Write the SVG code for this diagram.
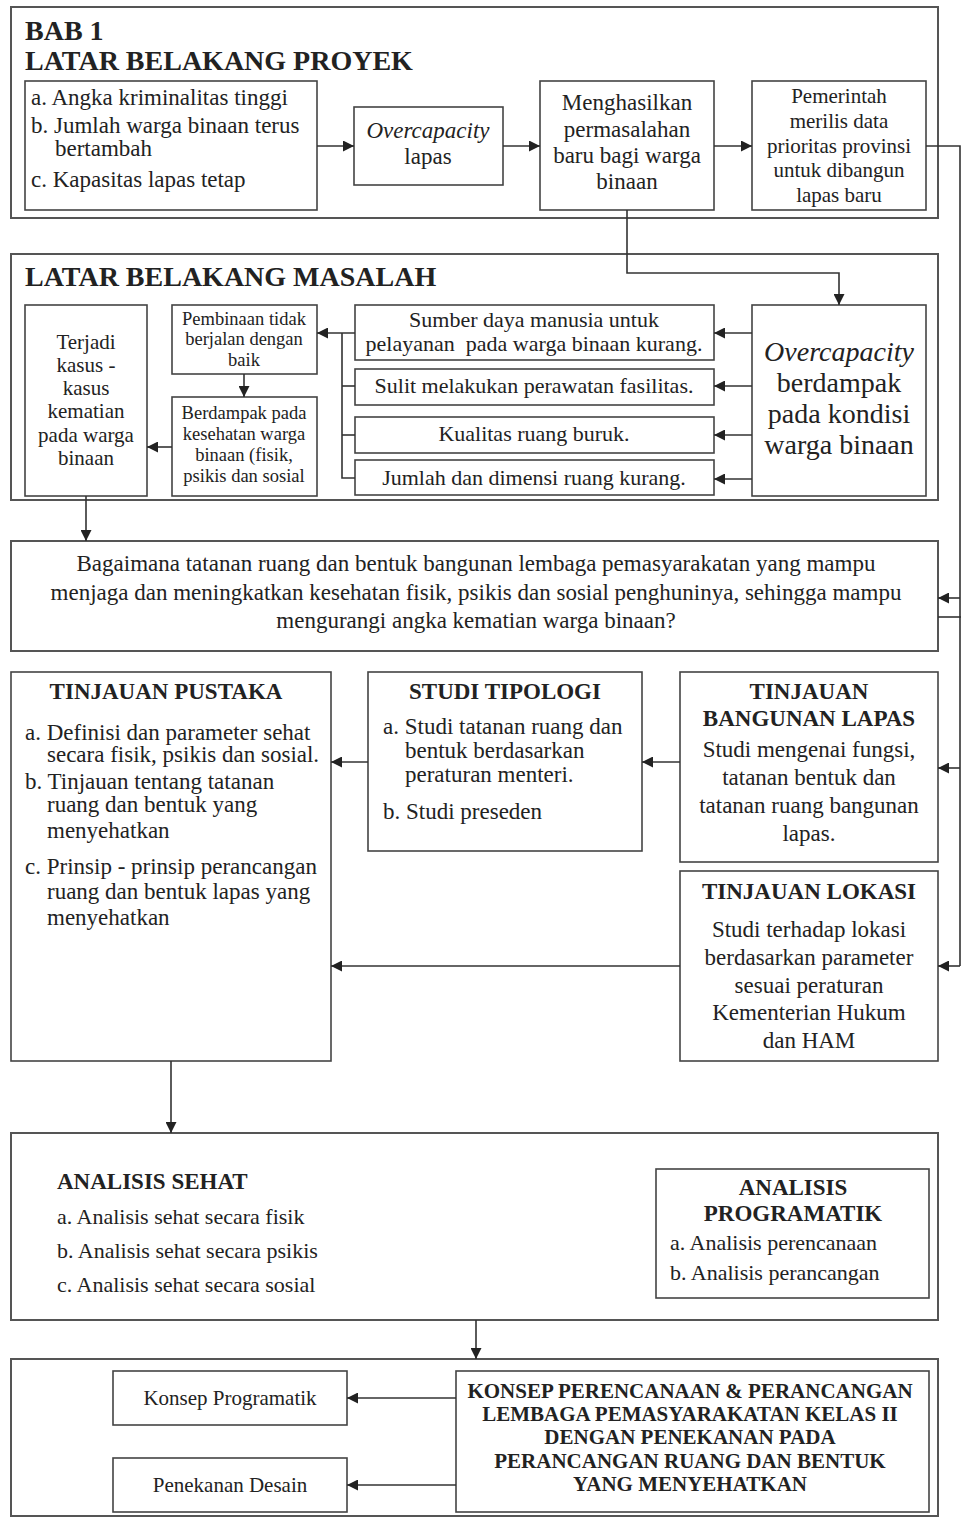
<svg xmlns="http://www.w3.org/2000/svg" width="961" height="1517" viewBox="0 0 961 1517">
<style>
text{font-family:"Liberation Serif","Times New Roman",serif;fill:#222}
.box{fill:#fff;stroke:#444;stroke-width:1.6}
.frame{fill:none;stroke:#555;stroke-width:2}
.c{text-anchor:middle}
.b{font-weight:bold}
.i{font-style:italic}
.t20{font-size:22px}
.t21{font-size:23px}
.t19{font-size:21px}
.t17{font-size:18.5px}
.t26{font-size:28px}
.ln{fill:none;stroke:#333;stroke-width:1.6}
</style>
<defs>
<marker id="ah" viewBox="0 0 10 10" refX="10" refY="5" markerWidth="13" markerHeight="11" markerUnits="userSpaceOnUse" orient="auto"><path d="M0,0 L10,5 L0,10 z" fill="#222"/></marker>
</defs>
<rect width="961" height="1517" fill="#fff"/>

<g id="sec1">
<rect class="frame" x="11" y="7" width="927" height="211"/>
<text x="25" y="40" class="b t26">BAB 1</text>
<text x="25" y="70" class="b t26">LATAR BELAKANG PROYEK</text>
</g>
<g id="n-penyebab">
<rect class="box" x="25" y="81" width="292" height="129"/>
<text x="31" y="105" class="t21">a. Angka kriminalitas tinggi</text>
<text x="31" y="133" class="t21">b. Jumlah warga binaan terus</text>
<text x="55" y="156" class="t21">bertambah</text>
<text x="31" y="187" class="t21">c. Kapasitas lapas tetap</text>
</g>
<g id="n-overcap1">
<rect class="box" x="354" y="107" width="149" height="78"/>
<text x="428" y="138" class="c t21 i">Overcapacity</text>
<text x="428" y="164" class="c t21">lapas</text>
</g>
<g id="n-menghasilkan">
<rect class="box" x="540" y="81" width="174" height="129"/>
<text x="627" y="110" class="c t21">Menghasilkan</text>
<text x="627" y="137" class="c t21">permasalahan</text>
<text x="627" y="163" class="c t21">baru bagi warga</text>
<text x="627" y="189" class="c t21">binaan</text>
</g>
<g id="n-pemerintah">
<rect class="box" x="752" y="81" width="174" height="129"/>
<text x="839" y="103" class="c t19">Pemerintah</text>
<text x="839" y="128" class="c t19">merilis data</text>
<text x="839" y="153" class="c t19">prioritas provinsi</text>
<text x="839" y="177" class="c t19">untuk dibangun</text>
<text x="839" y="202" class="c t19">lapas baru</text>
</g>

<g id="sec2">
<rect class="frame" x="11" y="254" width="927" height="246"/>
<text x="25" y="286" class="b t26">LATAR BELAKANG MASALAH</text>
</g>
<g id="n-terjadi">
<rect class="box" x="25" y="305" width="122" height="191"/>
<text x="86" y="349" class="c t19">Terjadi</text>
<text x="86" y="372" class="c t19">kasus -</text>
<text x="86" y="395" class="c t19">kasus</text>
<text x="86" y="418" class="c t19">kematian</text>
<text x="86" y="442" class="c t19">pada warga</text>
<text x="86" y="465" class="c t19">binaan</text>
</g>
<g id="n-pembinaan">
<rect class="box" x="172" y="305" width="145" height="69"/>
<text x="244" y="325" class="c t17">Pembinaan tidak</text>
<text x="244" y="345" class="c t17">berjalan dengan</text>
<text x="244" y="366" class="c t17">baik</text>
</g>
<g id="n-berdampak">
<rect class="box" x="172" y="397" width="145" height="99"/>
<text x="244" y="419" class="c t17">Berdampak pada</text>
<text x="244" y="440" class="c t17">kesehatan warga</text>
<text x="244" y="461" class="c t17">binaan (fisik,</text>
<text x="244" y="482" class="c t17">psikis dan sosial</text>
</g>
<g id="n-sdm">
<rect class="box" x="355" y="305" width="359" height="55"/>
<text x="534" y="327" class="c t20">Sumber daya manusia untuk</text>
<text x="534" y="351" class="c t20" xml:space="preserve">pelayanan  pada warga binaan kurang.</text>
</g>
<g id="n-sulit">
<rect class="box" x="355" y="369" width="359" height="36"/>
<text x="534" y="393" class="c t20">Sulit melakukan perawatan fasilitas.</text>
</g>
<g id="n-kualitas">
<rect class="box" x="355" y="417" width="359" height="36"/>
<text x="534" y="441" class="c t20">Kualitas ruang buruk.</text>
</g>
<g id="n-jumlah">
<rect class="box" x="355" y="460" width="359" height="35"/>
<text x="534" y="485" class="c t20">Jumlah dan dimensi ruang kurang.</text>
</g>
<g id="n-overcap2">
<rect class="box" x="752" y="305" width="174" height="191"/>
<text x="839" y="361" class="c t26 i">Overcapacity</text>
<text x="839" y="392" class="c t26">berdampak</text>
<text x="839" y="423" class="c t26">pada kondisi</text>
<text x="839" y="454" class="c t26">warga binaan</text>
</g>

<g id="n-pertanyaan">
<rect class="frame" x="11" y="541" width="927" height="110"/>
<text x="476" y="571" class="c t21">Bagaimana tatanan ruang dan bentuk bangunan lembaga pemasyarakatan yang mampu</text>
<text x="476" y="600" class="c t21">menjaga dan meningkatkan kesehatan fisik, psikis dan sosial penghuninya, sehingga mampu</text>
<text x="476" y="628" class="c t21">mengurangi angka kematian warga binaan?</text>
</g>

<g id="n-pustaka">
<rect class="box" x="11" y="672" width="320" height="389"/>
<text x="166" y="699" class="c b t21">TINJAUAN PUSTAKA</text>
<text x="25" y="740" class="t21">a. Definisi dan parameter sehat</text>
<text x="47" y="762" class="t21">secara fisik, psikis dan sosial.</text>
<text x="25" y="789" class="t21">b. Tinjauan tentang tatanan</text>
<text x="47" y="812" class="t21">ruang dan bentuk yang</text>
<text x="47" y="838" class="t21">menyehatkan</text>
<text x="25" y="874" class="t21">c. Prinsip - prinsip perancangan</text>
<text x="47" y="899" class="t21">ruang dan bentuk lapas yang</text>
<text x="47" y="925" class="t21">menyehatkan</text>
</g>
<g id="n-tipologi">
<rect class="box" x="368" y="672" width="274" height="179"/>
<text x="505" y="699" class="c b t21">STUDI TIPOLOGI</text>
<text x="383" y="734" class="t21">a. Studi tatanan ruang dan</text>
<text x="405" y="758" class="t21">bentuk berdasarkan</text>
<text x="405" y="782" class="t21">peraturan menteri.</text>
<text x="383" y="819" class="t21">b. Studi preseden</text>
</g>
<g id="n-bangunan">
<rect class="box" x="680" y="672" width="258" height="190"/>
<text x="809" y="699" class="c b t21">TINJAUAN</text>
<text x="809" y="726" class="c b t21">BANGUNAN LAPAS</text>
<text x="809" y="757" class="c t21">Studi mengenai fungsi,</text>
<text x="809" y="785" class="c t21">tatanan bentuk dan</text>
<text x="809" y="813" class="c t21">tatanan ruang bangunan</text>
<text x="809" y="841" class="c t21">lapas.</text>
</g>
<g id="n-lokasi">
<rect class="box" x="680" y="871" width="258" height="190"/>
<text x="809" y="899" class="c b t21">TINJAUAN LOKASI</text>
<text x="809" y="937" class="c t21">Studi terhadap lokasi</text>
<text x="809" y="965" class="c t21">berdasarkan parameter</text>
<text x="809" y="993" class="c t21">sesuai peraturan</text>
<text x="809" y="1020" class="c t21">Kementerian Hukum</text>
<text x="809" y="1048" class="c t21">dan HAM</text>
</g>

<g id="n-analisis">
<rect class="frame" x="11" y="1133" width="927" height="187"/>
<text x="57" y="1189" class="b t21">ANALISIS SEHAT</text>
<text x="57" y="1224" class="t20">a. Analisis sehat secara fisik</text>
<text x="57" y="1258" class="t20">b. Analisis sehat secara psikis</text>
<text x="57" y="1292" class="t20">c. Analisis sehat secara sosial</text>
</g>
<g id="n-programatik">
<rect class="box" x="656" y="1169" width="273" height="129"/>
<text x="793" y="1195" class="c b t21">ANALISIS</text>
<text x="793" y="1221" class="c b t21">PROGRAMATIK</text>
<text x="670" y="1250" class="t20">a. Analisis perencanaan</text>
<text x="670" y="1280" class="t20">b. Analisis perancangan</text>
</g>

<g id="sec-konsep">
<rect class="frame" x="11" y="1359" width="927" height="157"/>
</g>
<g id="n-konsepprog">
<rect class="box" x="113" y="1371" width="234" height="54"/>
<text x="230" y="1405" class="c t19">Konsep Programatik</text>
</g>
<g id="n-penekanan">
<rect class="box" x="113" y="1458" width="234" height="54"/>
<text x="230" y="1492" class="c t19">Penekanan Desain</text>
</g>
<g id="n-konsep">
<rect class="box" x="456" y="1371" width="473" height="141"/>
<text x="690" y="1398" class="c b t19">KONSEP PERENCANAAN &amp; PERANCANGAN</text>
<text x="690" y="1421" class="c b t19">LEMBAGA PEMASYARAKATAN KELAS II</text>
<text x="690" y="1444" class="c b t19">DENGAN PENEKANAN PADA</text>
<text x="690" y="1468" class="c b t19">PERANCANGAN RUANG DAN BENTUK</text>
<text x="690" y="1491" class="c b t19">YANG MENYEHATKAN</text>
</g>

<g id="connectors">
<line class="ln" x1="317" y1="146" x2="354" y2="146" marker-end="url(#ah)"/>
<line class="ln" x1="503" y1="146" x2="540" y2="146" marker-end="url(#ah)"/>
<line class="ln" x1="714" y1="146" x2="752" y2="146" marker-end="url(#ah)"/>
<polyline class="ln" points="926,146 960,146 960,966"/>
<polyline class="ln" points="627,210 627,273 839,273 839,305" marker-end="url(#ah)"/>
<line class="ln" x1="752" y1="333" x2="714" y2="333" marker-end="url(#ah)"/>
<line class="ln" x1="752" y1="386" x2="714" y2="386" marker-end="url(#ah)"/>
<line class="ln" x1="752" y1="435" x2="714" y2="435" marker-end="url(#ah)"/>
<line class="ln" x1="752" y1="479" x2="714" y2="479" marker-end="url(#ah)"/>
<polyline class="ln" points="355,478 342,478 342,333"/>
<line class="ln" x1="342" y1="386" x2="355" y2="386"/>
<line class="ln" x1="342" y1="435" x2="355" y2="435"/>
<line class="ln" x1="355" y1="333" x2="317" y2="333" marker-end="url(#ah)"/>
<line class="ln" x1="244" y1="374" x2="244" y2="397" marker-end="url(#ah)"/>
<line class="ln" x1="172" y1="447" x2="147" y2="447" marker-end="url(#ah)"/>
<line class="ln" x1="86" y1="496" x2="86" y2="541" marker-end="url(#ah)"/>
<line class="ln" x1="960" y1="598" x2="938" y2="598" marker-end="url(#ah)"/>
<line class="ln" x1="938" y1="617" x2="961" y2="617"/>
<line class="ln" x1="960" y1="768" x2="938" y2="768" marker-end="url(#ah)"/>
<line class="ln" x1="960" y1="966" x2="938" y2="966" marker-end="url(#ah)"/>
<line class="ln" x1="368" y1="762" x2="331" y2="762" marker-end="url(#ah)"/>
<line class="ln" x1="680" y1="762" x2="642" y2="762" marker-end="url(#ah)"/>
<line class="ln" x1="680" y1="966" x2="331" y2="966" marker-end="url(#ah)"/>
<line class="ln" x1="171" y1="1061" x2="171" y2="1133" marker-end="url(#ah)"/>
<line class="ln" x1="476" y1="1320" x2="476" y2="1359" marker-end="url(#ah)"/>
<line class="ln" x1="456" y1="1398" x2="347" y2="1398" marker-end="url(#ah)"/>
<line class="ln" x1="456" y1="1485" x2="347" y2="1485" marker-end="url(#ah)"/>
</g>
</svg>
